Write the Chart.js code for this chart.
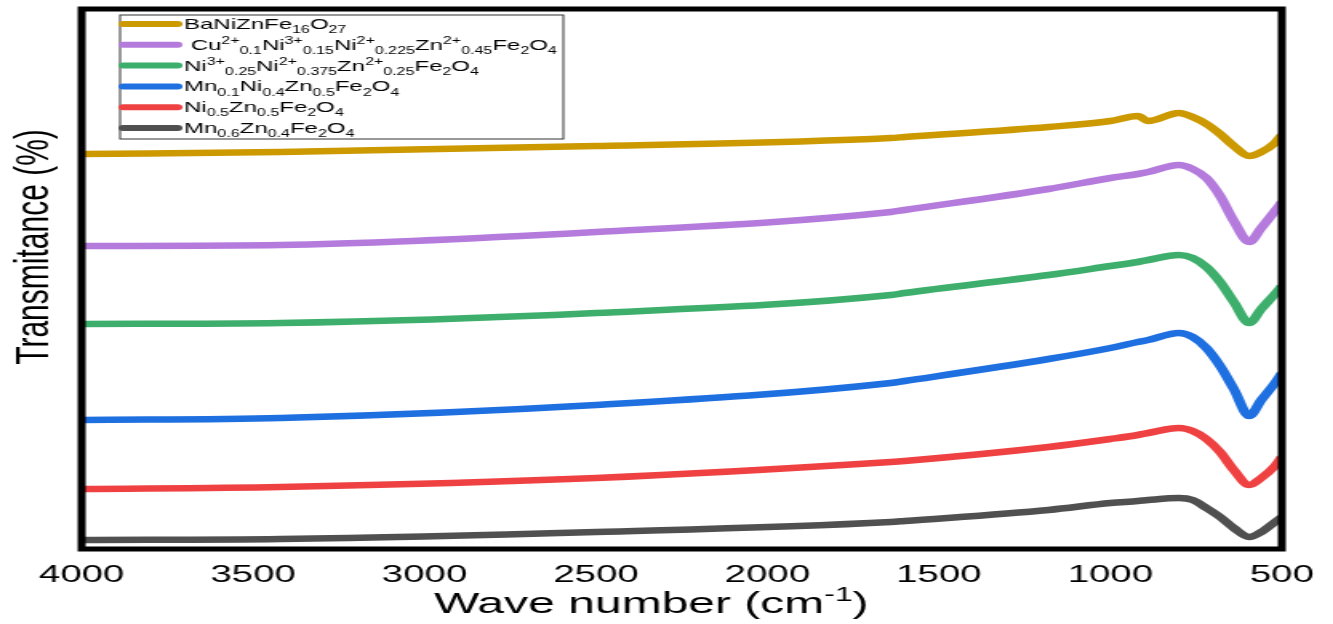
<!DOCTYPE html>
<html>
<head>
<meta charset="utf-8">
<script src="https://cdn.jsdelivr.net/npm/chart.js@4.4.0/dist/chart.umd.min.js"></script>
<style>
  html, body { margin: 0; padding: 0; background: #fff; overflow: hidden; }
  #wrap { width: 1333px; height: 624px; }
  /* the figure is drawn narrow and stretched sideways */
  #ftir { transform: scaleX(1.6003); transform-origin: 0 0; }
</style>
</head>
<body>
<div id="wrap"><canvas id="ftir" width="833" height="624"></canvas></div>
<script>
// wave numbers (cm-1) where each spectrum is sampled
const wavenumbers = [4000, 3420, 2500, 1640, 1600, 1180, 1000, 920, 890, 800, 760, 720, 680, 640, 595, 560, 520, 500];

// transmittance, offset per sample (arbitrary units)
const baNiZnFe = [395, 397, 403, 411, 412, 422, 428, 433, 428, 436, 432, 425, 415, 403, 393, 397, 406, 414];
const cuNiZnFe = [303, 304, 317, 337, 339, 360, 371, 375, 377, 384, 380, 371, 353, 328, 307, 321, 338, 347];
const niNiZnFe = [225, 226, 236, 254, 256, 274, 283, 287, 289, 294, 291, 282, 267, 247, 226, 240, 255, 263];
const mnNiZnFe = [129, 131, 144, 166, 168, 190, 201, 207, 209, 216, 212, 201, 183, 160, 133, 149, 166, 176];
const niZnFe   = [60, 62, 71, 87, 88, 102, 110, 114, 116, 121, 118, 110, 97, 79, 64, 71, 83, 92];
const mnZnFe   = [9, 10, 17, 27, 28, 39, 46, 48, 49, 51, 49, 41, 32, 21, 12, 17, 27, 32];

const seriesNames = [
  'BaNiZnFe_{16}O_{27}',
  ' Cu^{2+}_{0.1}Ni^{3+}_{0.15}Ni^{2+}_{0.225}Zn^{2+}_{0.45}Fe_{2}O_{4}',
  'Ni^{3+}_{0.25}Ni^{2+}_{0.375}Zn^{2+}_{0.25}Fe_{2}O_{4}',
  'Mn_{0.1}Ni_{0.4}Zn_{0.5}Fe_{2}O_{4}',
  'Ni_{0.5}Zn_{0.5}Fe_{2}O_{4}',
  'Mn_{0.6}Zn_{0.4}Fe_{2}O_{4}'
];
const seriesValues = [baNiZnFe, cuNiZnFe, niNiZnFe, mnNiZnFe, niZnFe, mnZnFe];
const seriesColors = ['#CC9900', '#B47BDD', '#3DAE6B', '#1E6FE0', '#EF4142', '#505050'];

const xTicks = [4000, 3500, 3000, 2500, 2000, 1500, 1000, 500];

const FONT = "'Liberation Sans', Arial, sans-serif";

// text with _{sub} and ^{sup} parts
function richParts(text) {
  const parts = [];
  const re = /([_^])\{([^}]*)\}|([^_^]+)/g;
  let m;
  while ((m = re.exec(text)) !== null) {
    if (m[3] !== undefined) parts.push({ t: m[3], k: 'n' });
    else parts.push({ t: m[2], k: m[1] === '_' ? 'sub' : 'sup' });
  }
  return parts;
}

function drawRich(ctx, text, x, y, size) {
  const small = Math.round(size * 0.68);
  let cx = x;
  for (const p of richParts(text)) {
    let dy = 0, fs = size;
    if (p.k === 'sub') { fs = small; dy = size * 0.28; }
    if (p.k === 'sup') { fs = small; dy = -size * 0.4; }
    ctx.font = fs + 'px ' + FONT;
    ctx.fillText(p.t, cx, y + dy);
    cx += ctx.measureText(p.t).width;
  }
  return cx - x;
}

const decorations = {
  id: 'decorations',
  afterDatasetsDraw(chart) {
    const { ctx, chartArea: a } = chart;
    ctx.save();

    // frame round the plot
    ctx.strokeStyle = '#000';
    ctx.lineWidth = 5;
    ctx.strokeRect(a.left, a.top, a.right - a.left, a.bottom - a.top);

    // legend box
    const lx = a.left + 24, ly = a.top + 6, lw = 277, lh = 124;
    ctx.fillStyle = '#fff';
    ctx.fillRect(lx, ly, lw, lh);
    ctx.strokeStyle = '#333';
    ctx.lineWidth = 1;
    ctx.strokeRect(lx, ly, lw, lh);

    ctx.textBaseline = 'alphabetic';
    ctx.textAlign = 'left';
    seriesNames.forEach((name, i) => {
      const y = ly + 9 + i * 20.8;
      ctx.strokeStyle = seriesColors[i];
      ctx.lineWidth = 6;
      ctx.lineCap = 'round';
      ctx.beginPath();
      ctx.moveTo(lx + 2, y);
      ctx.lineTo(lx + 36, y);
      ctx.stroke();
      ctx.fillStyle = '#000';
      drawRich(ctx, name, lx + 40, y + 5, 15);
    });

    // axis titles
    ctx.fillStyle = '#000';
    const xTitle = 'Wave number (cm^{-1})';
    let w = 0;
    for (const p of richParts(xTitle)) {
      ctx.font = (p.k === 'n' ? 30 : 20) + 'px ' + FONT;
      w += ctx.measureText(p.t).width;
    }
    drawRich(ctx, xTitle, a.left + 356 - w / 2, 613, 30);

    ctx.translate(30, 247);
    ctx.rotate(-Math.PI / 2);
    ctx.textAlign = 'center';
    ctx.font = '30px ' + FONT;
    ctx.fillText('Transmitance (%)', 0, 0);
    ctx.restore();
  }
};

new Chart(document.getElementById('ftir'), {
  type: 'line',
  data: {
    datasets: seriesValues.map((vals, i) => ({
      label: seriesNames[i],
      data: wavenumbers.map((x, j) => ({ x: x, y: vals[j] })),
      borderColor: seriesColors[i],
      backgroundColor: seriesColors[i],
      borderWidth: 6.5,
      pointRadius: 0,
      cubicInterpolationMode: 'monotone',
      fill: false
    }))
  },
  options: {
    responsive: false,
    animation: false,
    layout: { padding: { top: 9, right: 30.5, left: 0, bottom: 0 } },
    plugins: { legend: { display: false }, tooltip: { enabled: false } },
    scales: {
      x: {
        type: 'linear',
        reverse: true,
        min: 500,
        max: 4000,
        afterBuildTicks: s => { s.ticks = xTicks.map(v => ({ value: v })); },
        afterFit: s => { s.height = 75; },
        grid: { display: false, drawTicks: false },
        border: { display: false },
        ticks: {
          maxRotation: 0,
          autoSkip: false,
          padding: 12,
          color: '#000',
          font: { family: FONT, size: 24 },
          callback: v => String(v)
        }
      },
      y: {
        min: 0,
        max: 540,
        afterFit: s => { s.width = 51; },
        grid: { display: false, drawTicks: false },
        border: { display: false },
        ticks: { display: false }
      }
    }
  },
  plugins: [decorations]
});
</script>
</body>
</html>
